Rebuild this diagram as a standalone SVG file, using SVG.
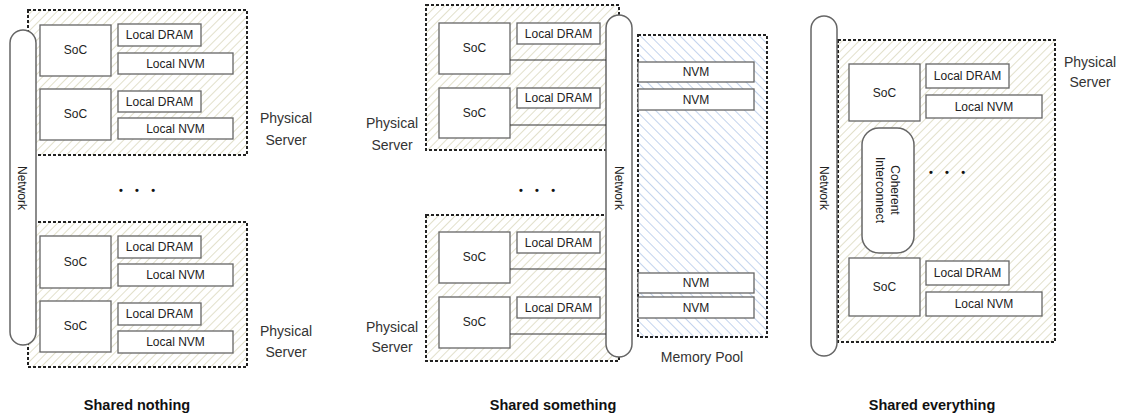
<svg xmlns="http://www.w3.org/2000/svg" width="1122" height="419" viewBox="0 0 1122 419">
<defs>
<pattern id="hatchY" patternUnits="userSpaceOnUse" width="6" height="6" patternTransform="rotate(45)">
<rect width="6" height="6" fill="#ffffff"/>
<line x1="0" y1="0" x2="0" y2="6" stroke="#e2e0cb" stroke-width="2"/>
</pattern>
<pattern id="hatchB" patternUnits="userSpaceOnUse" width="7" height="7" patternTransform="rotate(-45)">
<rect width="7" height="7" fill="#ffffff"/>
<line x1="0" y1="0" x2="0" y2="7" stroke="#c2d3ed" stroke-width="2"/>
</pattern>
<style>
.srv{fill:url(#hatchY);stroke:#222;stroke-width:2;stroke-dasharray:3 2}
.pool{fill:url(#hatchB);stroke:#222;stroke-width:2;stroke-dasharray:3 2}
.box{fill:#fff;stroke:#666;stroke-width:1.3}
.pill{fill:#fff;stroke:#666;stroke-width:1.5}
.lbl{font-family:"Liberation Sans",Arial,sans-serif;font-size:12px;fill:#222;text-anchor:middle;dominant-baseline:central}
.big{font-family:"Liberation Sans",Arial,sans-serif;font-size:14px;fill:#333;text-anchor:middle}
.ttl{font-family:"Liberation Sans",Arial,sans-serif;font-size:14.5px;font-weight:bold;fill:#111;text-anchor:middle}
.dots{font-family:"Liberation Sans",Arial,sans-serif;font-size:11px;font-weight:bold;fill:#111;text-anchor:middle;white-space:pre}
.wire{stroke:#333;stroke-width:1.2;fill:none}
</style>
</defs>

<!-- Panel 1: Shared nothing -->
<g id="p1-server1">
<rect class="srv" x="28" y="10" width="219" height="145"/>
<rect class="box" x="40" y="25" width="71" height="51"/><text class="lbl" x="75.5" y="50">SoC</text>
<rect class="box" x="118" y="24" width="83" height="22"/><text class="lbl" x="159.5" y="35">Local DRAM</text>
<rect class="box" x="118" y="53" width="115" height="21"/><text class="lbl" x="175.5" y="63.5">Local NVM</text>
<rect class="box" x="40" y="89" width="71" height="51"/><text class="lbl" x="75.5" y="114">SoC</text>
<rect class="box" x="118" y="91" width="83" height="21"/><text class="lbl" x="159.5" y="101.5">Local DRAM</text>
<rect class="box" x="118" y="118" width="115" height="21"/><text class="lbl" x="175.5" y="128.5">Local NVM</text>
<text class="big" x="286" y="123">Physical</text><text class="big" x="286" y="145">Server</text>
</g>
<g id="p1-server2">
<rect class="srv" x="28" y="222" width="219" height="145"/>
<rect class="box" x="40" y="236" width="71" height="52"/><text class="lbl" x="75.5" y="262">SoC</text>
<rect class="box" x="118" y="236" width="83" height="22"/><text class="lbl" x="159.5" y="247">Local DRAM</text>
<rect class="box" x="118" y="264" width="115" height="22"/><text class="lbl" x="175.5" y="275">Local NVM</text>
<rect class="box" x="40" y="301" width="71" height="51"/><text class="lbl" x="75.5" y="326">SoC</text>
<rect class="box" x="118" y="303" width="83" height="22"/><text class="lbl" x="159.5" y="314">Local DRAM</text>
<rect class="box" x="118" y="331" width="115" height="22"/><text class="lbl" x="175.5" y="342">Local NVM</text>
<text class="big" x="286" y="336">Physical</text><text class="big" x="286" y="357">Server</text>
</g>
<g id="p1-network">
<rect class="pill" x="10" y="30" width="26" height="315" rx="13"/>
<text class="lbl" transform="translate(22,188) rotate(90)">Network</text>
</g>
<text class="dots" x="137" y="194">•    •    •</text>
<text class="ttl" x="137" y="410">Shared nothing</text>

<!-- Panel 2: Shared something -->
<g id="p2-pool">
<rect class="pool" x="638" y="35" width="129" height="302"/>
<rect class="box" x="638" y="62" width="116" height="20"/><text class="lbl" x="696" y="72">NVM</text>
<rect class="box" x="638" y="89" width="116" height="21"/><text class="lbl" x="696" y="99.5">NVM</text>
<rect class="box" x="638" y="273" width="116" height="20"/><text class="lbl" x="696" y="283">NVM</text>
<rect class="box" x="638" y="297" width="116" height="21"/><text class="lbl" x="696" y="307.5">NVM</text>
<text class="big" x="702" y="362">Memory Pool</text>
</g>
<g id="p2-server1">
<rect class="srv" x="426" y="5" width="193" height="145"/>
<rect class="box" x="439" y="23" width="71" height="51"/><text class="lbl" x="474.5" y="48">SoC</text>
<rect class="box" x="517" y="23" width="83" height="21"/><text class="lbl" x="558.5" y="33.5">Local DRAM</text>
<rect class="box" x="439" y="88" width="71" height="50"/><text class="lbl" x="474.5" y="113">SoC</text>
<rect class="box" x="517" y="88" width="83" height="20"/><text class="lbl" x="558.5" y="98">Local DRAM</text>
<text class="big" x="392" y="128">Physical</text><text class="big" x="392" y="150">Server</text>
</g>
<g id="p2-server2">
<rect class="srv" x="426" y="215" width="193" height="146"/>
<rect class="box" x="439" y="232" width="71" height="51"/><text class="lbl" x="474.5" y="257">SoC</text>
<rect class="box" x="517" y="232" width="83" height="21"/><text class="lbl" x="558.5" y="242.5">Local DRAM</text>
<rect class="box" x="439" y="297" width="71" height="51"/><text class="lbl" x="474.5" y="322">SoC</text>
<rect class="box" x="517" y="297" width="83" height="21"/><text class="lbl" x="558.5" y="307.5">Local DRAM</text>
<text class="big" x="392" y="332">Physical</text><text class="big" x="392" y="352">Server</text>
</g>
<g id="p2-network">
<rect class="pill" x="606" y="15" width="26" height="342" rx="13"/>
<text class="lbl" transform="translate(619,188) rotate(90)">Network</text>
</g>
<g id="p2-connectors">
<line class="wire" x1="510" y1="60" x2="606" y2="60"/>
<line class="wire" x1="510" y1="125" x2="606" y2="125"/>
<line class="wire" x1="510" y1="269" x2="606" y2="269"/>
<line class="wire" x1="510" y1="334" x2="606" y2="334"/>
</g>
<text class="dots" x="537" y="194">•    •    •</text>
<text class="ttl" x="553" y="410">Shared something</text>

<!-- Panel 3: Shared everything -->
<g id="p3-server">
<rect class="srv" x="838" y="40" width="217" height="302"/>
<rect class="box" x="849" y="64" width="71" height="57"/><text class="lbl" x="884.5" y="92.5">SoC</text>
<rect class="box" x="926" y="64" width="83" height="24"/><text class="lbl" x="967.5" y="76">Local DRAM</text>
<rect class="box" x="926" y="95" width="116" height="23"/><text class="lbl" x="984" y="106.5">Local NVM</text>
<rect class="box" x="849" y="258" width="71" height="58"/><text class="lbl" x="884.5" y="287">SoC</text>
<rect class="box" x="926" y="261" width="83" height="24"/><text class="lbl" x="967.5" y="273">Local DRAM</text>
<rect class="box" x="926" y="292" width="116" height="24"/><text class="lbl" x="984" y="304">Local NVM</text>
<text class="big" x="1090" y="67">Physical</text><text class="big" x="1090" y="87">Server</text>
</g>
<g id="p3-interconnect">
<rect class="pill" x="862" y="128" width="52" height="125" rx="17"/>
<text class="lbl" transform="translate(895,190) rotate(90)">Coherent</text>
<text class="lbl" transform="translate(880,190) rotate(90)">Interconnect</text>
</g>
<g id="p3-network">
<rect class="pill" x="811" y="16" width="26" height="340" rx="13"/>
<text class="lbl" transform="translate(824,188) rotate(90)">Network</text>
</g>
<text class="dots" x="947" y="176">•    •    •</text>
<text class="ttl" x="932" y="410">Shared everything</text>
</svg>
